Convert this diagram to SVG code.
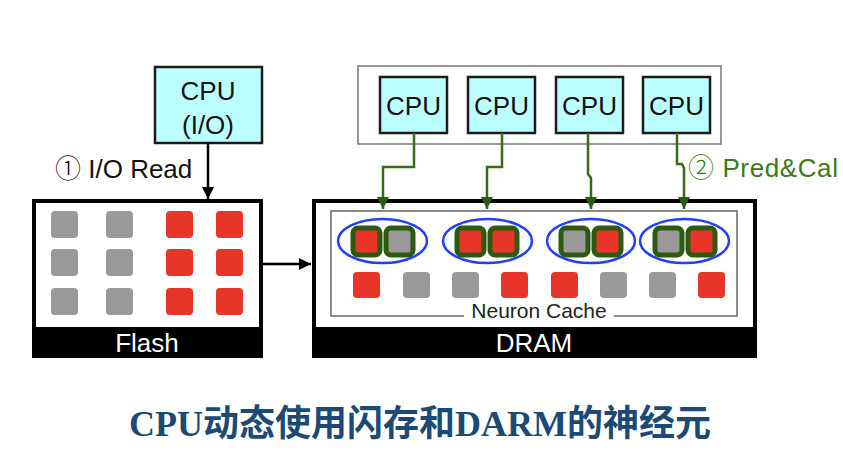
<svg xmlns="http://www.w3.org/2000/svg" width="843" height="455" viewBox="0 0 843 455">
<style>
.lbl{font-family:"Liberation Sans","DejaVu Sans",sans-serif;}
.circ{font-family:"Noto Sans CJK SC","DejaVu Sans",sans-serif;font-weight:300;}
.cpu{fill:#bcffff;stroke:#1a1a1a;stroke-width:2.5;}
.cput{font-family:"Liberation Sans",sans-serif;font-size:26px;fill:#111;text-anchor:middle;}
.mem{fill:#fff;stroke:#000;stroke-width:4;}
.bar{fill:#000;}
.bart{font-family:"Liberation Sans",sans-serif;font-size:26px;fill:#fff;text-anchor:middle;}
.r{fill:#e8352a;}
.g{fill:#999;}
.sel{stroke:#2c5a10;stroke-width:5;}
.ell{fill:none;stroke:#1f3fff;stroke-width:2.5;}
.gl{fill:none;stroke:#3a6d12;stroke-width:2.5;}
.bl{fill:none;stroke:#000;stroke-width:2.5;}
</style>
<defs>
<marker id="ab" viewBox="0 0 10 10" refX="10" refY="5" markerWidth="5" markerHeight="5" orient="auto" markerUnits="strokeWidth"><path d="M0,0 L10,5 L0,10 Z" fill="#000"/></marker>
<marker id="ag" viewBox="0 0 10 10" refX="10" refY="5" markerWidth="5" markerHeight="5" orient="auto" markerUnits="strokeWidth"><path d="M0,0 L10,5 L0,10 Z" fill="#2c5a10"/></marker>
</defs>
<rect width="843" height="455" fill="#fff"/>

<g id="cpu-io">
<rect class="cpu" x="155" y="67" width="107" height="76"/>
<text class="cput" x="208" y="100">CPU</text>
<text class="cput" x="208" y="134">(I/O)</text>
</g>

<g id="cpu-group">
<rect x="358" y="66" width="363" height="78" fill="#fff" stroke="#777" stroke-width="1.5"/>
</g>
<g id="cpu1"><rect class="cpu" x="380" y="77" width="67" height="56"/><text class="cput" x="413.5" y="115">CPU</text></g>
<g id="cpu2"><rect class="cpu" x="468" y="77" width="67" height="56"/><text class="cput" x="501.5" y="115">CPU</text></g>
<g id="cpu3"><rect class="cpu" x="556" y="77" width="67" height="56"/><text class="cput" x="589.5" y="115">CPU</text></g>
<g id="cpu4"><rect class="cpu" x="643" y="77" width="67" height="56"/><text class="cput" x="676.5" y="115">CPU</text></g>

<g id="flash">
<rect class="mem" x="34" y="201" width="227" height="155"/>
<rect class="bar" x="34" y="327" width="227" height="30"/>
<text class="bart" x="147" y="352">Flash</text>
<rect class="g" x="51" y="211" width="27" height="27" rx="4"/>
<rect class="g" x="106" y="211" width="27" height="27" rx="4"/>
<rect class="r" x="166" y="211" width="27" height="27" rx="4"/>
<rect class="r" x="216" y="211" width="27" height="27" rx="4"/>
<rect class="g" x="51" y="249" width="27" height="27" rx="4"/>
<rect class="g" x="106" y="249" width="27" height="27" rx="4"/>
<rect class="r" x="166" y="249" width="27" height="27" rx="4"/>
<rect class="r" x="216" y="249" width="27" height="27" rx="4"/>
<rect class="g" x="51" y="288" width="27" height="27" rx="4"/>
<rect class="g" x="106" y="288" width="27" height="27" rx="4"/>
<rect class="r" x="166" y="288" width="27" height="27" rx="4"/>
<rect class="r" x="216" y="288" width="27" height="27" rx="4"/>
</g>

<g id="dram">
<rect class="mem" x="314" y="201" width="441" height="155"/>
<rect class="bar" x="314" y="327" width="441" height="30"/>
<text class="bart" x="534" y="352">DRAM</text>
</g>

<g id="neuron-cache">
<rect x="331" y="211" width="406" height="105" fill="none" stroke="#666" stroke-width="1.5"/>
<rect x="464" y="305" width="150" height="20" fill="#fff"/>
<text class="lbl" x="539" y="318" font-size="21" fill="#222" text-anchor="middle">Neuron Cache</text>
<ellipse class="ell" cx="382.5" cy="241" rx="44.5" ry="22"/>
<ellipse class="ell" cx="487.5" cy="241" rx="44.5" ry="22"/>
<ellipse class="ell" cx="591" cy="241" rx="44" ry="22"/>
<ellipse class="ell" cx="684.5" cy="241" rx="44.5" ry="22"/>
<rect class="r sel" x="353" y="228" width="27" height="27" rx="5"/>
<rect class="g sel" x="386" y="228" width="27" height="27" rx="5"/>
<rect class="r sel" x="457" y="228" width="27" height="27" rx="5"/>
<rect class="r sel" x="490" y="228" width="27" height="27" rx="5"/>
<rect class="g sel" x="561" y="228" width="27" height="27" rx="5"/>
<rect class="r sel" x="594" y="228" width="27" height="27" rx="5"/>
<rect class="g sel" x="655" y="228" width="27" height="27" rx="5"/>
<rect class="r sel" x="688" y="228" width="27" height="27" rx="5"/>
<rect class="r" x="353" y="272" width="27" height="26" rx="4"/>
<rect class="g" x="403" y="272" width="27" height="26" rx="4"/>
<rect class="g" x="452" y="272" width="27" height="26" rx="4"/>
<rect class="r" x="501" y="272" width="27" height="26" rx="4"/>
<rect class="r" x="551" y="272" width="27" height="26" rx="4"/>
<rect class="g" x="600" y="272" width="27" height="26" rx="4"/>
<rect class="g" x="649" y="272" width="27" height="26" rx="4"/>
<rect class="r" x="698" y="272" width="27" height="26" rx="4"/>
</g>

<g id="connectors">
<path class="bl" d="M208,143 V199" marker-end="url(#ab)"/>
<path class="bl" d="M262,264 H311" marker-end="url(#ab)"/>
<path class="gl" d="M414,133 V167 H383 V209" marker-end="url(#ag)"/>
<path class="gl" d="M502,133 V167 H487 V209" marker-end="url(#ag)"/>
<path class="gl" d="M588,133 V174 L591,178 V209" marker-end="url(#ag)"/>
<path class="gl" d="M677,133 V164 H682 L684,168 V209" marker-end="url(#ag)"/>
</g>

<text class="lbl" x="55" y="178" font-size="26" fill="#111"><tspan class="circ">①</tspan> I/O Read</text>
<text class="lbl" x="688" y="177" font-size="26" fill="#3a7a1c" letter-spacing="0.6"><tspan class="circ">②</tspan> Pred&amp;Cal</text>

<text x="420" y="436" font-family="'Liberation Serif','Noto Sans CJK SC',serif" font-weight="bold" font-size="36" fill="#1c4a74" text-anchor="middle">CPU动态使用闪存和DARM的神经元</text>
</svg>
